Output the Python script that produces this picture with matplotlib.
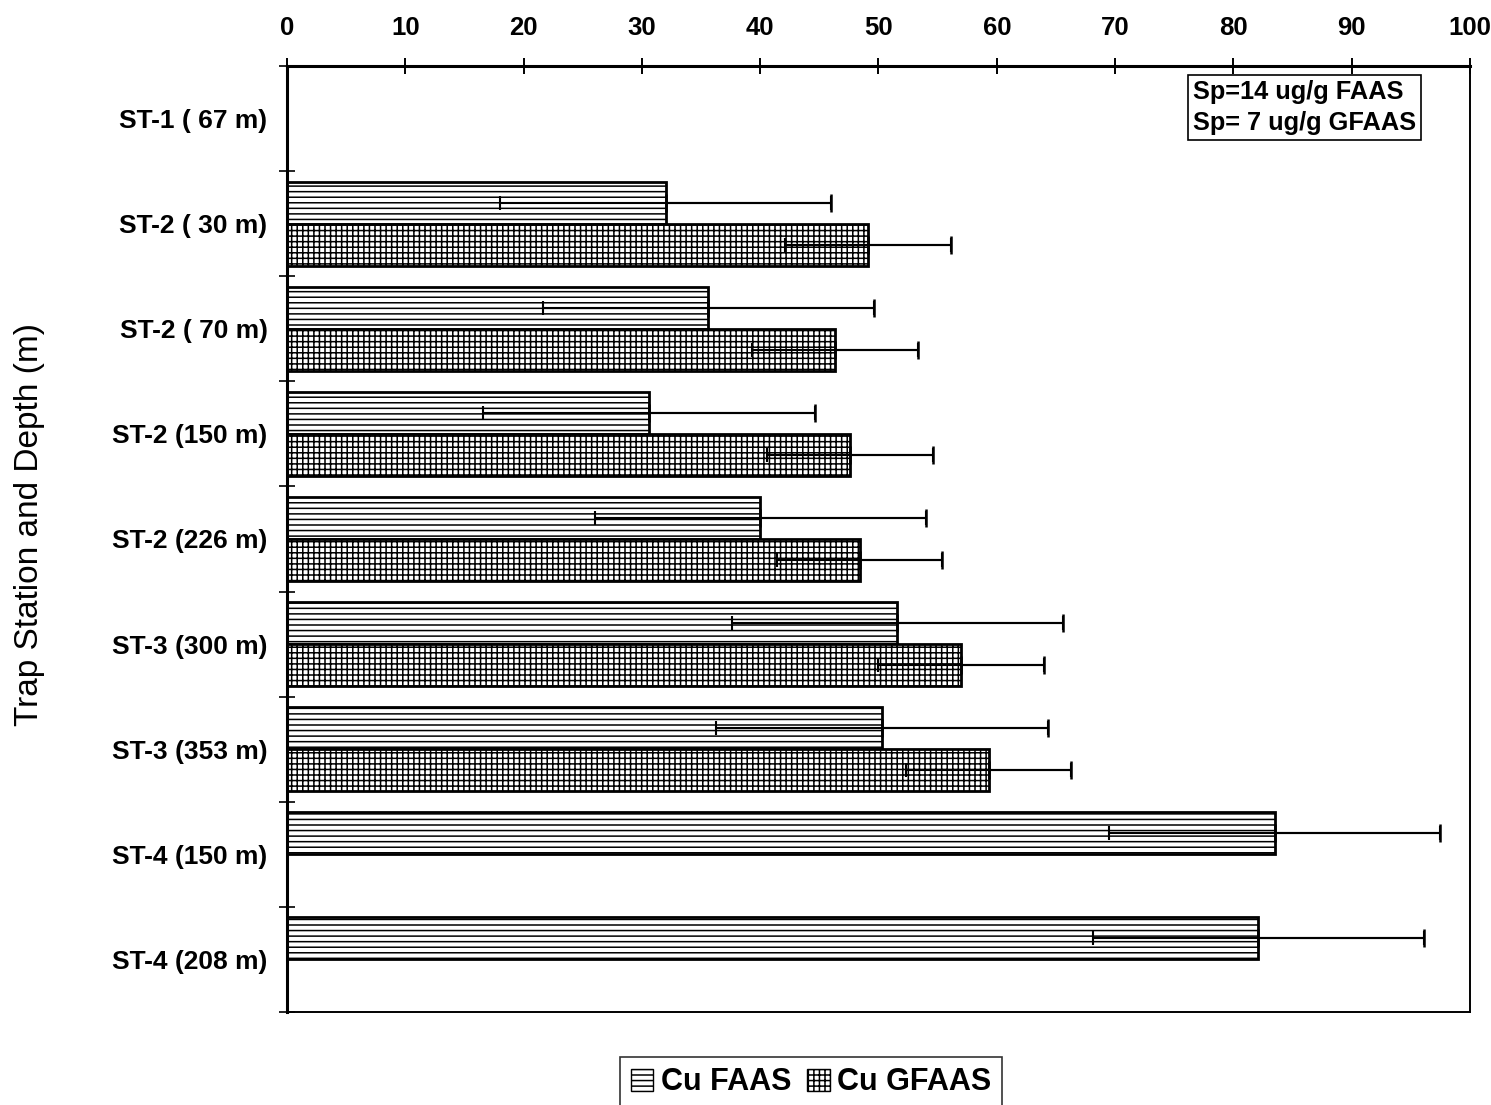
import numpy as np
import matplotlib
matplotlib.use("Agg")
import matplotlib.pyplot as plt
from matplotlib.patches import Patch

plt.rcParams["font.family"] = ["Liberation Sans", "DejaVu Sans"]
plt.rcParams["hatch.linewidth"] = 1.1

# Trap stations / depths and Cu concentrations (ug/g)
stations = ["ST-1 ( 67 m)", "ST-2 ( 30 m)", "ST-2 ( 70 m)", "ST-2 (150 m)",
            "ST-2 (226 m)", "ST-3 (300 m)", "ST-3 (353 m)", "ST-4 (150 m)",
            "ST-4 (208 m)"]
cu_faas = [np.nan, 32.0, 35.6, 30.6, 40.0, 51.6, 50.3, 83.5, 82.1]
cu_gfaas = [np.nan, 49.1, 46.3, 47.6, 48.4, 57.0, 59.3, np.nan, np.nan]
sp_faas = 14
sp_gfaas = 7
x_ticks = [0, 10, 20, 30, 40, 50, 60, 70, 80, 90, 100]

fig = plt.figure(figsize=(14.91, 11.05), dpi=100)
ax = fig.add_axes([0.1925, 0.0842, 0.7934, 0.8561])

pos = np.arange(len(stations))
h = 0.4
faas = np.array(cu_faas)
gfaas = np.array(cu_gfaas)

ax.barh(pos - h / 2, np.nan_to_num(faas), height=h, color="white",
        edgecolor="black", hatch="---", linewidth=2)
ax.barh(pos + h / 2, np.nan_to_num(gfaas), height=h, color="white",
        edgecolor="black", hatch="+++", linewidth=2)


def draw_err(vals, ypos, sp):
    ok = ~np.isnan(vals)
    # full +/- Sp line with a short tick at the low end
    ax.errorbar(vals[ok], ypos[ok], xerr=sp, fmt="none", ecolor="black",
                elinewidth=1.5, capsize=5, capthick=1.5)
    # larger cap at the high end
    ax.errorbar(vals[ok], ypos[ok], xerr=[np.zeros(ok.sum()), np.full(ok.sum(), sp)],
                fmt="none", ecolor="black", elinewidth=1.5, capsize=6.5, capthick=1.8)


draw_err(faas, pos - h / 2, sp_faas)
draw_err(gfaas, pos + h / 2, sp_gfaas)

ax.set_xlim(0, 100)
ax.set_ylim(len(stations) - 0.5, -0.5)

ax.xaxis.tick_top()
ax.set_xticks(x_ticks)
ax.set_xticklabels([str(t) for t in x_ticks], fontsize=18.5, fontweight="bold")
ax.tick_params(axis="x", direction="inout", length=12, width=1.4, pad=13)

ax.set_yticks(pos)
ax.set_yticklabels(stations, fontsize=19, fontweight="bold")
ax.set_yticks(np.arange(len(stations) + 1) - 0.5, minor=True)
ax.tick_params(axis="y", which="major", length=0, pad=14)
ax.tick_params(axis="y", which="minor", direction="inout", length=12, width=1.2)

for side in ["left", "top"]:
    ax.spines[side].set_linewidth(2.2)
for side in ["right", "bottom"]:
    ax.spines[side].set_linewidth(1.4)

ax.set_ylabel("Trap Station and Depth (m)", fontsize=24)
ax.yaxis.set_label_coords(-0.205, 0.515)

ax.text(0.766, 0.985, "Sp=14 ug/g FAAS\nSp= 7 ug/g GFAAS", transform=ax.transAxes,
        ha="left", va="top", fontsize=18.3, fontweight="bold", linespacing=1.35,
        bbox=dict(boxstyle="square,pad=0.2", fc="white", ec="black", lw=1.2))

handles = [Patch(facecolor="white", edgecolor="black", hatch="---", label="Cu FAAS"),
           Patch(facecolor="white", edgecolor="black", hatch="+++", label="Cu GFAAS")]
leg = fig.legend(handles=handles, loc="upper center", bbox_to_anchor=(0.544, 0.0575),
                 ncol=2, fancybox=False, edgecolor="black", handlelength=0.75,
                 handleheight=0.75, handletextpad=0.25, columnspacing=0.5,
                 borderpad=0.35, prop={"size": 22, "weight": "bold"})
leg.get_frame().set_linewidth(1.2)

fig.savefig("out.png", dpi=100)
